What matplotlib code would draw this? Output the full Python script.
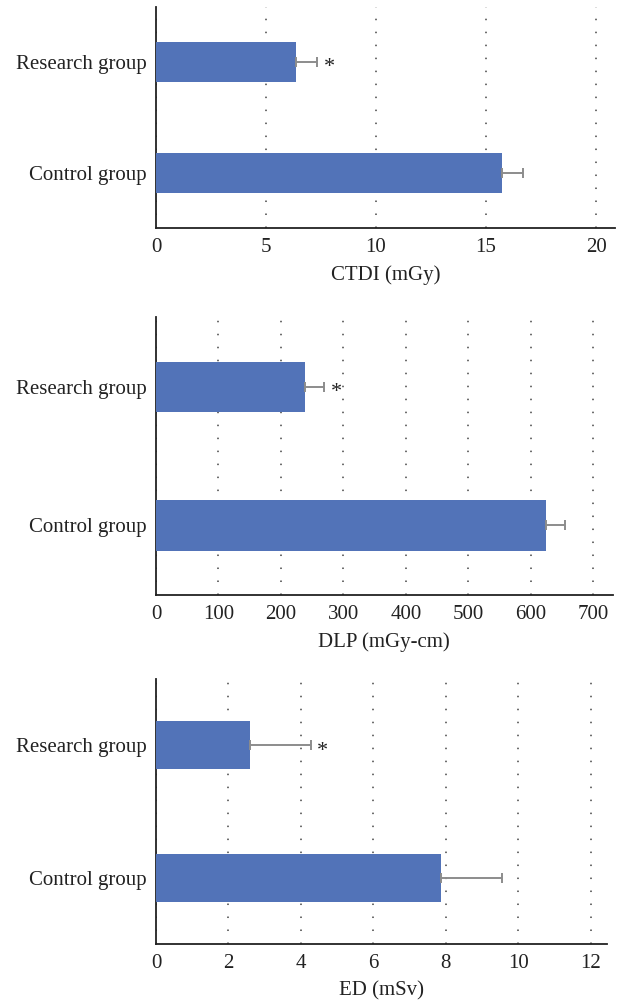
import matplotlib.pyplot as plt

plt.rcParams['font.family'] = ['Liberation Serif', 'DejaVu Serif']

groups = ['Control group', 'Research group']

# CTDI (mGy)
ctdi_mean = [15.73, 6.36]
ctdi_sd = [0.97, 0.94]

# DLP (mGy-cm)
dlp_mean = [624.5, 238.6]
dlp_sd = [30.9, 30.9]

# ED (mSv)
ed_mean = [7.87, 2.59]
ed_sd = [1.67, 1.68]

panels = [
    dict(mean=ctdi_mean, sd=ctdi_sd, label='CTDI (mGy)', ticks=[0, 5, 10, 15, 20],
         xmax=20.86, rect=[0.252, 0.7725, 0.7415, 0.2205]),
    dict(mean=dlp_mean, sd=dlp_sd, label='DLP (mGy-cm)', ticks=list(range(0, 701, 100)),
         xmax=731, rect=[0.252, 0.4062, 0.7378, 0.2774]),
    dict(mean=ed_mean, sd=ed_sd, label='ED (mSv)', ticks=list(range(0, 13, 2)),
         xmax=12.44, rect=[0.252, 0.0576, 0.728, 0.2648]),
]

bar_color = '#5273b8'
err_color = '#8c8c8c'

fig = plt.figure(figsize=(6.19, 10.02), dpi=100)

for p in panels:
    ax = fig.add_axes(p['rect'])
    pos = [0, 1]
    ax.barh(pos, p['mean'], height=0.36, color=bar_color, zorder=3)
    ax.errorbar(p['mean'], pos, xerr=[[0, 0], p['sd']], fmt='none',
                ecolor=err_color, elinewidth=1.4, capsize=3.3, capthick=1.4, zorder=4)
    # significance marker next to research group
    ax.text(p['mean'][1] + p['sd'][1] + p['xmax'] * 0.027, 0.955, '*',
            ha='center', va='center', fontsize=16, color='#222222')
    ax.set_xlim(0, p['xmax'])
    ax.set_ylim(-0.5, 1.5)
    ax.set_xticks(p['ticks'])
    ax.set_yticks(pos)
    ax.set_yticklabels(groups)
    ax.grid(axis='x', color='#444444', linestyle=(0, (1, 7.5)), linewidth=1.1, zorder=0)
    ax.set_axisbelow(True)
    for s in ['top', 'right']:
        ax.spines[s].set_visible(False)
    for s in ['left', 'bottom']:
        ax.spines[s].set_color('#222222')
        ax.spines[s].set_linewidth(1.3)
    ax.tick_params(length=0, labelsize=15, colors='#222222', pad=7)
    ax.set_xlabel(p['label'], fontsize=15, color='#222222', labelpad=6)

plt.savefig('out.png', dpi=100)
